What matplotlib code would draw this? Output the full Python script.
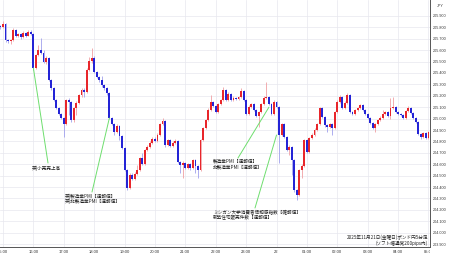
import matplotlib
matplotlib.use("Agg")
import matplotlib.pyplot as plt
import numpy as np
from matplotlib.transforms import Bbox, TransformedBbox

# ---------------- data (GBP/JPY 5-minute candles) ----------------
first_open = 205.810
closes = [
    205.804, 205.830, 205.689, 205.681, 205.689, 205.777, 205.725, 205.742, 205.716, 205.751,
    205.725, 205.760, 205.742, 205.444, 205.558, 205.602, 205.575, 205.496, 205.532, 205.339,
    205.268, 205.163, 205.093, 205.040, 205.005, 204.953, 205.163, 205.146, 204.988, 205.093,
    205.137, 205.207, 205.251, 205.233, 205.426, 205.505, 205.532, 205.409, 205.365, 205.339,
    205.295, 205.268, 205.225, 205.005, 204.953, 204.882, 204.935, 204.847, 204.742, 204.549,
    204.391, 204.505, 204.470, 204.514, 204.549, 204.654, 204.602, 204.725, 204.751, 204.786,
    204.821, 204.804, 204.856, 204.953, 204.979, 204.768, 204.812, 204.760, 204.786, 204.804,
    204.619, 204.593, 204.610, 204.567, 204.602, 204.567, 204.637, 204.584, 204.549, 204.812,
    204.918, 204.988, 205.075, 205.146, 205.111, 205.058, 205.128, 205.163, 205.251, 205.163,
    205.216, 205.163, 205.181, 205.172, 205.189, 205.242, 205.163, 205.040, 205.102, 205.128,
    205.075, 205.023, 205.058, 205.128, 205.181, 205.189, 205.128, 205.040, 205.146, 205.102,
    204.856, 204.953, 204.839, 204.725, 204.751, 204.637, 204.374, 204.330, 204.549, 204.584,
    204.812, 204.707, 204.830, 204.856, 204.900, 204.953, 205.093, 205.014, 204.944, 204.926,
    204.953, 204.918, 205.058, 205.146, 205.189, 205.093, 205.137, 205.207, 205.058, 205.040,
    205.075, 205.093, 205.119, 205.075, 205.040, 205.005, 204.961, 204.918, 204.953, 204.988,
    205.005, 205.040, 205.058, 205.023, 205.093, 205.102, 205.058, 205.040, 205.032, 205.005,
    205.067, 205.093, 205.049, 205.005, 204.970, 204.865, 204.839, 204.874, 204.830, 204.882,
]
highs = [
    205.820, 205.856, 205.840, 205.700, 205.700, 205.795, 205.785, 205.755, 205.750, 205.768,
    205.760, 205.777, 205.777, 205.750, 205.570, 205.646, 205.707, 205.602, 205.545, 205.540,
    205.350, 205.275, 205.170, 205.100, 205.050, 205.015, 205.175, 205.180, 205.155, 205.105,
    205.150, 205.220, 205.265, 205.265, 205.440, 205.540, 205.619, 205.545, 205.420, 205.375,
    205.374, 205.305, 205.280, 205.235, 205.015, 204.960, 204.950, 204.945, 204.855, 204.750,
    204.560, 204.520, 204.520, 204.530, 204.593, 204.665, 204.698, 204.735, 204.765, 204.800,
    204.835, 204.835, 204.870, 204.965, 205.005, 204.990, 204.825, 204.825, 204.800, 204.820,
    204.815, 204.630, 204.625, 204.620, 204.615, 204.610, 204.650, 204.645, 204.595, 204.825,
    204.930, 205.000, 205.090, 205.207, 205.155, 205.120, 205.140, 205.175, 205.277, 205.260,
    205.230, 205.225, 205.195, 205.190, 205.200, 205.268, 205.250, 205.170, 205.115, 205.140,
    205.135, 205.085, 205.070, 205.140, 205.195, 205.321, 205.200, 205.135, 205.160, 205.155,
    205.110, 204.965, 204.960, 204.845, 204.765, 204.760, 204.645, 204.385, 204.560, 204.600,
    204.825, 204.825, 204.840, 204.870, 204.915, 204.965, 205.105, 205.100, 205.020, 204.955,
    204.965, 204.960, 205.070, 205.160, 205.207, 205.200, 205.150, 205.225, 205.215, 205.065,
    205.085, 205.105, 205.130, 205.125, 205.085, 205.050, 205.010, 204.970, 204.960, 205.000,
    205.020, 205.075, 205.070, 205.065, 205.181, 205.189, 205.110, 205.065, 205.050, 205.040,
    205.075, 205.111, 205.100, 205.055, 205.010, 204.975, 204.870, 204.885, 204.880, 204.890,
]
lows = [
    205.790, 205.795, 205.675, 205.663, 205.654, 205.680, 205.715, 205.715, 205.698, 205.710,
    205.715, 205.720, 205.735, 205.426, 205.435, 205.550, 205.565, 205.485, 205.479, 205.330,
    205.255, 205.150, 205.080, 205.030, 204.995, 204.839, 204.945, 205.032, 204.970, 204.970,
    205.032, 205.125, 205.190, 205.189, 205.225, 205.415, 205.490, 205.400, 205.355, 205.325,
    205.280, 205.255, 205.210, 204.995, 204.940, 204.860, 204.870, 204.812, 204.730, 204.540,
    204.374, 204.380, 204.460, 204.460, 204.505, 204.540, 204.590, 204.595, 204.715, 204.740,
    204.775, 204.795, 204.795, 204.845, 204.940, 204.755, 204.760, 204.750, 204.750, 204.775,
    204.610, 204.523, 204.479, 204.555, 204.555, 204.545, 204.560, 204.523, 204.479, 204.540,
    204.800, 204.905, 204.975, 205.065, 205.100, 205.045, 205.050, 205.120, 205.155, 205.150,
    205.155, 205.150, 205.155, 205.160, 205.165, 205.180, 205.155, 205.030, 205.030, 205.095,
    205.065, 205.010, 204.926, 205.050, 205.120, 205.170, 205.120, 205.030, 205.030, 205.090,
    204.610, 204.845, 204.830, 204.715, 204.681, 204.505, 204.360, 204.286, 204.320, 204.479,
    204.575, 204.695, 204.700, 204.820, 204.845, 204.890, 204.945, 205.005, 204.930, 204.882,
    204.915, 204.856, 204.910, 205.050, 205.140, 205.085, 205.085, 205.130, 205.050, 205.030,
    205.035, 205.065, 205.085, 205.065, 205.030, 204.995, 204.950, 204.905, 204.882, 204.945,
    204.980, 204.995, 205.035, 205.010, 204.996, 205.085, 205.050, 205.030, 205.020, 204.995,
    204.995, 205.060, 205.040, 204.995, 204.960, 204.855, 204.825, 204.830, 204.820, 204.820,
]
time_labels = ["15:00", "16:00", "17:00", "18:00", "19:00", "20:00", "21:00", "22:00",
               "23:00", "22", "01:00", "02:00", "03:00", "04:00", "05:00"]
price_ticks = [205.9, 205.8, 205.7, 205.6, 205.5, 205.4, 205.3, 205.2, 205.1, 205.0,
               204.9, 204.8, 204.7, 204.6, 204.5, 204.4, 204.3, 204.2, 204.1, 204.0, 203.9]
events = [
    # (candle index, price anchor, label lines)
    (12, 205.444, ["英)小売売上高"]),
    (42, 205.005, ["英)製造業PMI【速報値】", "英)非製造業PMI【速報値】"]),
    (105, 205.100, ["製造業PMI【速報値】", "非製造業PMI【速報値】"]),
    (108, 204.856, ["ミシガン大学消費者信頼感指数【確報値】", "新築住宅販売件数【速報値】"]),
]
title_lines = ["2025年11月21日(金曜日)ポンド円5分足", "(ソフト幅通常200pips内)"]

# ---------------- figure ----------------
W, H = 450, 258
fig = plt.figure(figsize=(W / 100, H / 100), dpi=100)
fig.patch.set_facecolor("white")
ax = fig.add_axes([0, 11 / H, 430 / W, 1 - 11 / H])

n = len(closes)
idx = np.arange(n) - 1          # index 0 == 15:00
opens = [first_open] + closes[:-1]
UP, DOWN = "#e8262b", "#2424d6"
UPW, DOWNW = "#f0a0a4", "#a0a0ec"
for k in range(n):
    o, c = opens[k], closes[k]
    up = c >= o
    col = UP if up else DOWN
    wcol = UPW if up else DOWNW
    ax.vlines(idx[k], lows[k], highs[k], color=wcol, lw=0.6, zorder=2)
    ax.bar(idx[k], abs(c - o) if abs(c - o) > 0.004 else 0.004,
           bottom=min(o, c), width=0.75, color=col, lw=0, zorder=3)

ax.set_xlim(-1.18, 168.6)
ax.set_ylim(203.874, 206.040)

xt = np.arange(len(time_labels)) * 12
ax.set_xticks(xt)
ax.set_xticklabels(time_labels, fontsize=3.0, family="Liberation Sans", color="#333333")
ax.yaxis.tick_right()
ax.set_yticks(price_ticks)
ax.set_yticklabels([f"{p:.3f}" for p in price_ticks], fontsize=2.7,
                   family="Liberation Sans", color="#333333")
ax.tick_params(axis="both", length=0, pad=2.0)
ax.grid(True, color="#e8e8ee", lw=0.5, zorder=0)
for s in ["top", "left"]:
    ax.spines[s].set_visible(False)
for s in ["right", "bottom"]:
    ax.spines[s].set_color("#555555")
    ax.spines[s].set_linewidth(0.7)

# clip last x label at axis right edge
clipbb = TransformedBbox(Bbox([[0, 0], [430 / W, 1]]), fig.transFigure)
lab = ax.get_xticklabels()[-1]
lab.set_clip_box(clipbb)
lab.set_clip_on(True)

fig.text(437 / W, 1 - 6 / H, "JPY", fontsize=2.7, family="Liberation Sans",
         color="#333333", va="center", ha="left")

# ---------------- event annotations ----------------
jp = ["Noto Sans CJK JP", "DejaVu Sans"]
GREEN = "#6ede6e"
text_pos = [(32, 168), (65, 196), (213, 161), (213, 212)]
line_end = [(48, 163), (92, 192), (238, 158), (255, 208)]
for (ci, pr, lines), (tx, ty), (lx, ly) in zip(events, text_pos, line_end):
    ax.annotate("", xy=(ci, pr), xycoords="data",
                xytext=(lx / W, 1 - ly / H), textcoords="figure fraction",
                arrowprops=dict(arrowstyle="-", color=GREEN, lw=0.7,
                                shrinkA=0, shrinkB=0), zorder=4)
    for j, t in enumerate(lines):
        fig.text(tx / W, 1 - (ty + j * 5.6) / H, t, fontsize=3.3, family=jp,
                 color="#222222", va="center", ha="left")

for j, t in enumerate(title_lines):
    fig.text(428 / W, 1 - (237 + j * 5.8) / H, t, fontsize=3.3, family=jp,
             color="#222222", va="center", ha="right")

fig.savefig("out.png", dpi=100, facecolor="white")
